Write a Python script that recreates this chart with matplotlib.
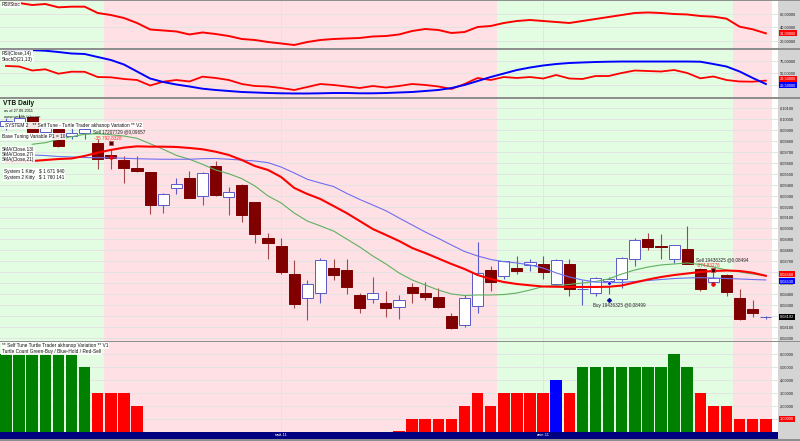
import matplotlib.pyplot as plt
from matplotlib.patches import Rectangle
from matplotlib.transforms import offset_copy

plt.rcParams['font.family'] = ['Liberation Sans', 'DejaVu Sans']

W, H = 800, 441

# ---- VTB daily candles ----
opens = [0.0994, 0.0996, 0.10021, 0.09881, 0.09906, 0.09844, 0.09875, 0.09777, 0.09671, 0.09625,
         0.09549, 0.09516, 0.09212, 0.09367, 0.09464, 0.09297, 0.09571, 0.09288, 0.09400, 0.09242,
         0.08910, 0.08840, 0.08581, 0.08362, 0.08414, 0.08639, 0.08621, 0.08390, 0.08353, 0.08317,
         0.08283, 0.08469, 0.08408, 0.08375, 0.08198, 0.08116, 0.08292, 0.08624, 0.08563, 0.08639,
         0.08669, 0.08673, 0.08490, 0.08673, 0.08445, 0.08408, 0.08524, 0.08542, 0.08719, 0.08901,
         0.08836, 0.08719, 0.08810, 0.08633, 0.08512, 0.08572, 0.08365, 0.08268, 0.08190]
highs = [0.1001, 0.10042, 0.10030, 0.09930, 0.09912, 0.09921, 0.09921, 0.09814, 0.09723, 0.09662,
         0.09662, 0.09520, 0.09320, 0.09464, 0.09525, 0.09512, 0.09616, 0.09382, 0.09402, 0.09245,
         0.08962, 0.08916, 0.08709, 0.08530, 0.08727, 0.08718, 0.08718, 0.08414, 0.08557, 0.08429,
         0.08390, 0.08505, 0.08511, 0.08460, 0.08231, 0.08393, 0.08880, 0.08658, 0.08705, 0.08749,
         0.08718, 0.08749, 0.08720, 0.08718, 0.08530, 0.08560, 0.08554, 0.08740, 0.08916, 0.08962,
         0.08947, 0.08850, 0.09023, 0.08640, 0.08642, 0.08580, 0.08451, 0.08347, 0.08201]
lows = [0.0990, 0.0994, 0.09875, 0.09870, 0.09745, 0.09814, 0.09820, 0.09546, 0.09540, 0.09412,
        0.09520, 0.09129, 0.09145, 0.09318, 0.09276, 0.09212, 0.09300, 0.09120, 0.09059, 0.08871,
        0.08724, 0.08581, 0.08271, 0.08162, 0.08317, 0.08530, 0.08399, 0.08226, 0.08317, 0.08192,
        0.08171, 0.08317, 0.08344, 0.08277, 0.08079, 0.08101, 0.08226, 0.08429, 0.08536, 0.08582,
        0.08612, 0.08536, 0.08481, 0.08384, 0.08300, 0.08384, 0.08406, 0.08460, 0.08658, 0.08804,
        0.08719, 0.08688, 0.08673, 0.08430, 0.08490, 0.08384, 0.08164, 0.08195, 0.08177]
closes = [0.0998, 0.1001, 0.09881, 0.09921, 0.09753, 0.09869, 0.09906, 0.09631, 0.09640, 0.09555,
          0.09528, 0.09218, 0.09312, 0.09403, 0.09282, 0.09510, 0.09303, 0.09336, 0.09120, 0.08953,
          0.08871, 0.08603, 0.08308, 0.08490, 0.08712, 0.08578, 0.08469, 0.08277, 0.08408, 0.08271,
          0.08344, 0.08408, 0.08375, 0.08283, 0.08094, 0.08362, 0.08591, 0.08515, 0.08700, 0.08609,
          0.08694, 0.08603, 0.08712, 0.08451, 0.08450, 0.08551, 0.08536, 0.08731, 0.08892, 0.08834,
          0.08831, 0.08847, 0.08673, 0.08445, 0.08551, 0.08423, 0.08170, 0.08231, 0.08192]

# moving averages
sma13 = [None, None, 0.09769, 0.09783, 0.09814, 0.09838, 0.09860, 0.09865, 0.09856, 0.09844,
         0.09823, 0.09774, 0.09723, 0.09668, 0.09632, 0.09586, 0.09534, 0.09500, 0.09455, 0.09388,
         0.09297, 0.09233, 0.09141, 0.09068, 0.09023, 0.08977, 0.08904, 0.08831, 0.08749, 0.08676,
         0.08594, 0.08530, 0.08484, 0.08438, 0.08402, 0.08388, 0.08393, 0.08393, 0.08397, 0.08411,
         0.08438, 0.08470, 0.08479, 0.08489, 0.08502, 0.08516, 0.08539, 0.08584, 0.08621, 0.08648,
         0.08667, 0.08676, 0.08685, 0.08671, 0.08648, 0.08621, 0.08603, 0.08584, 0.08569]
sma21 = [0.09610, 0.09612, 0.09616, 0.09625, 0.09634, 0.09639, 0.09662, 0.09692, 0.09717, 0.09738,
         0.09750, 0.09747, 0.09747, 0.09744, 0.09735, 0.09723, 0.09701, 0.09671, 0.09625, 0.09570,
         0.09534, 0.09470, 0.09370, 0.09315, 0.09269, 0.09205, 0.09141, 0.09068, 0.08995, 0.08941,
         0.08886, 0.08822, 0.08776, 0.08726, 0.08676, 0.08630, 0.08575, 0.08539, 0.08511, 0.08493,
         0.08481, 0.08470, 0.08468, 0.08466, 0.08466, 0.08466, 0.08468, 0.08479, 0.08507, 0.08534,
         0.08557, 0.08575, 0.08589, 0.08603, 0.08612, 0.08616, 0.08612, 0.08596, 0.08568]
sma27 = [None, None, 0.09671, 0.09666, 0.09657, 0.09653, 0.09648, 0.09646, 0.09646, 0.09641,
         0.09637, 0.09634, 0.09632, 0.09632, 0.09632, 0.09637, 0.09639, 0.09632, 0.09625, 0.09616,
         0.09601, 0.09561, 0.09507, 0.09449, 0.09415, 0.09383, 0.09321, 0.09265, 0.09214, 0.09162,
         0.09096, 0.09032, 0.08968, 0.08910, 0.08849, 0.08790, 0.08749, 0.08717, 0.08697, 0.08685,
         0.08667, 0.08639, 0.08594, 0.08557, 0.08530, 0.08511, 0.08507, 0.08507, 0.08516, 0.08525,
         0.08534, 0.08543, 0.08548, 0.08551, 0.08548, 0.08543, 0.08539, 0.08534, 0.08530]

# indicator panes
rsi_stoc = [76.5, 76.5, 73.5, 75, 70, 71, 71, 61.5, 58.5, 54,
            46.5, 36.8, 35.3, 33.8, 29.3, 32.3, 30, 27, 22.5, 21,
            18, 15.8, 13.5, 18, 21, 22.5, 23.3, 24, 26.3, 27,
            29.3, 34.5, 37.5, 36, 31.5, 33, 40.5, 42, 46.5, 49.5,
            51, 49.5, 48, 46.5, 49.5, 52.5, 55.5, 58.5, 61.5, 62.3,
            61.5, 60, 59.3, 57, 56, 53, 41, 37, 31]
rsi14 = [64.0, 62.9, 54.6, 57.1, 47.9, 52.1, 51.9, 41.0, 40.4, 36.9,
         34.8, 23.3, 31.3, 34.8, 31.7, 41.7, 39.0, 34.8, 26.5, 22.3,
         21.3, 18.1, 14.0, 20.2, 26.5, 24.4, 21.3, 18.1, 22.3, 19.2,
         22.3, 26.5, 24.4, 21.3, 16.1, 26.5, 39.0, 34.8, 41.0, 39.0,
         41.0, 37.9, 45.2, 37.9, 36.9, 43.1, 43.1, 49.4, 54.6, 53.5,
         52.5, 55.6, 49.4, 38.3, 42.1, 34.8, 31.7, 31.3, 33.5]
stochd = [97, 97, 97, 95.8, 93.1, 90.0, 89.0, 82.7, 76.5, 67.1,
          52.5, 37.9, 30.6, 25.4, 21.3, 16.7, 14.0, 11.9, 9.8, 8.8,
          7.7, 7.1, 6.7, 6.7, 7.1, 7.7, 7.7, 7.1, 7.1, 7.7,
          8.8, 9.8, 11.9, 14.0, 18.1, 24.4, 32.7, 41.0, 48.3, 55.6,
          60.8, 65.0, 68.1, 70.2, 71.3, 72.3, 72.9, 73.3, 73.3, 73.3,
          73.3, 73.3, 73.3, 72.9, 68.1, 62.9, 52.5, 39.0, 26.5]

# turtle count pane
turtle_count = [6, 6, 6, 6, 6, 6, 5, 3, 3, 3,
                2, 0, 0, 0, 0, 0, 0, 0, 0, 0,
                0, 0, 0, 0, 0, 0, 0, 0, 0, 0,
                0.1, 1, 1, 1, 1, 2, 3, 2, 3, 3,
                3, 3, 4, 3, 5, 5, 5, 5, 5, 5,
                5, 6, 5, 3, 2, 2, 1, 1, 1]
turtle_state = ['buy'] * 7 + ['sell'] * 35 + ['hold', 'sell'] + ['buy'] * 9 + ['sell'] * 6

# system position zones (background), trades
zones = [(0, 7, 'buy'), (8, 37, 'sell'), (38, 55, 'buy'), (56, 58, 'sell')]
trade_idx = [8, 46, 54]
trade_side = ['Sell', 'Buy', 'Sell']
trade_shares = [17207729, 19436325, 19436325]
trade_price = [0.09657, 0.08499, 0.08494]
trade_pnl = ['-35 792,8328', None, '-374,83276']

month_starts = [21, 41]
month_labels = ['май-11', 'июн-11']

main_ticks = [0.080 + 0.001 * k for k in range(22)]
p1_ticks = [20, 40, 60]
p2_ticks = [25, 50, 75]
count_ticks = [1, 2, 3, 4, 5, 6]

# ---- drawing ----
zone_col = {'buy': '#e3fde3', 'sell': '#ffe1e5'}
state_col = {'buy': '#008000', 'hold': '#0000ff', 'sell': '#ff0000'}
XLIM = (-0.46, 58.93)
idx = list(range(len(closes)))


def px_box(x0, y0, x1, y1):
    return [x0 / W, 1 - y1 / H, (x1 - x0) / W, (y1 - y0) / H]


def ru(v):
    return f'{v:.5f}'.replace('.', ',')


def style(ax, ylim, ticks):
    ax.set_xlim(XLIM)
    ax.set_ylim(ylim)
    for a, b, s in zones:
        ax.axvspan(a - 0.5, b + 0.5, color=zone_col[s], lw=0, zorder=0)
    for t in ticks:
        ax.axhline(t, color='#e4e4e4', lw=0.7, zorder=0.5)
    for m in month_starts:
        ax.axvline(m, color='#e4e4e4', lw=0.7, zorder=0.5)
    ax.yaxis.tick_right()
    ax.set_yticks(ticks)
    ax.set_yticklabels([ru(t) for t in ticks])
    ax.tick_params(axis='y', length=0, pad=1.2, labelsize=2.9, labelcolor='#222222')
    ax.set_xticks([])
    for sp in ax.spines.values():
        sp.set_visible(False)


def value_box(ax, v, fc, dy=0):
    tr = offset_copy(ax.get_yaxis_transform(), fig=fig, x=1.3, y=dy, units='points')
    ax.text(1.0, v, ru(v), transform=tr, ha='left', va='center', fontsize=2.9, color='white',
            bbox=dict(boxstyle='square,pad=0.25', fc=fc, ec='none'), zorder=10)


def label(x, y, s, size=3.4, box=True, **kw):
    bb = dict(boxstyle='square,pad=0.15', fc='white', ec='none', alpha=0.9) if box else None
    fig.text(x / W, 1 - y / H, s, fontsize=size, ha='left', va='center', color='#111111',
             bbox=bb, zorder=20, **kw)


fig = plt.figure(figsize=(W / 100, H / 100), dpi=100)
fig.patch.set_facecolor('white')
fig.add_artist(Rectangle((778 / W, 0), 22 / W, 1, transform=fig.transFigure,
                         fc='#d4d4d4', ec='none', zorder=-10))
for y0, y1 in [(0, 1), (48, 50), (96.5, 98.5), (340.5, 342), (439, 441)]:
    fig.add_artist(Rectangle((0, 1 - y1 / H), 1, (y1 - y0) / H, transform=fig.transFigure,
                             fc='#8f8f8f', ec='none', zorder=-5))

# RSI/Stoc pane
ax1 = fig.add_axes(px_box(0, 1, 778, 48))
style(ax1, (9, 79.5), p1_ticks)
ax1.plot(idx, rsi_stoc, color='#ff0000', lw=1.4, zorder=3)
value_box(ax1, rsi_stoc[-1], '#ff0000')

# RSI / StochD pane
ax2 = fig.add_axes(px_box(0, 50, 778, 96.5))
style(ax2, (0.43, 97.3), p2_ticks)
ax2.plot(idx, rsi14, color='#ff0000', lw=1.3, zorder=3)
ax2.plot(idx, stochd, color='#0000ff', lw=1.4, zorder=3)
value_box(ax2, rsi14[-1], '#ff0000', dy=1.5)
value_box(ax2, stochd[-1], '#0000ff', dy=-1.0)

# price pane
ax = fig.add_axes(px_box(0, 98.5, 778, 340.5))
style(ax, (0.079772, 0.101867), main_ticks)
up = [c >= o for o, c in zip(opens, closes)]
wick_col = ['#5a5ac8' if u else '#a04848' for u in up]
ax.vlines(idx, lows, highs, colors=wick_col, lw=0.8, zorder=2)
ax.bar(idx, [abs(c - o) for o, c in zip(opens, closes)],
       bottom=[min(o, c) for o, c in zip(opens, closes)], width=0.85,
       color=['white' if u else '#800000' for u in up],
       edgecolor=['#5a5ac8' if u else '#800000' for u in up], lw=0.7, zorder=3)
ax.plot(idx, sma13, color='#5fb05f', lw=0.8, zorder=4)
ax.plot(idx, sma27, color='#6e6ef0', lw=0.8, zorder=4)
ax.plot(idx, sma21, color='#ff0000', lw=1.5, zorder=4)

for i, side, sh, pr, pnl in zip(trade_idx, trade_side, trade_shares, trade_price, trade_pnl):
    txt = f'{side} {sh} @{ru(pr)}'
    if side == 'Sell':
        ax.plot(i, pr, 'o', ms=2.6, mfc='#ff0000', mec='#cc0000', mew=0.5, zorder=6)
        ax.plot(i, pr, 's', ms=2.4, mfc='#500000', mec='#d04040', mew=0.5, zorder=6,
                transform=offset_copy(ax.transData, fig=fig, y=10, units='points'))
        ax.text(i, pr, txt, fontsize=3.3, color='#222222', ha='left', va='center', zorder=7,
                transform=offset_copy(ax.transData, fig=fig, x=-12.7, y=17.7, units='points'))
        ax.text(i, pr, pnl, fontsize=3.3, color='#ff3030', ha='left', va='center', zorder=7,
                transform=offset_copy(ax.transData, fig=fig, x=-12.0, y=13.8, units='points'))
    else:
        ax.plot(i, pr, 'o', ms=2.6, mfc='#0000ff', mec='white', mew=0.4, zorder=6)
        ax.plot(i, pr, 'D', ms=2.4, mfc='#0000cc', mec='#000060', mew=0.4, zorder=6,
                transform=offset_copy(ax.transData, fig=fig, y=-12, units='points'))
        ax.text(i, pr, txt, fontsize=3.3, color='#222222', ha='left', va='center', zorder=7,
                transform=offset_copy(ax.transData, fig=fig, x=-11.5, y=-16.3, units='points'))

value_box(ax, sma21[-1], '#ff0000', dy=1.2)
value_box(ax, sma27[-1], '#0000ff', dy=-0.8)
value_box(ax, closes[-1], '#000000')

# turtle count pane
axb = fig.add_axes(px_box(0, 342, 778, 432))
style(axb, (0, 6.92), count_ticks)
axb.bar(idx, turtle_count, width=0.88, color=[state_col[s] for s in turtle_state], lw=0, zorder=2)
value_box(axb, turtle_count[-1], '#ff0000')

# date strip
axd = fig.add_axes(px_box(0, 432, 778, 439))
axd.set_facecolor('#000080')
axd.set_xlim(XLIM)
axd.set_xticks([])
axd.set_yticks([])
for sp in axd.spines.values():
    sp.set_visible(False)
for m, s in zip(month_starts, month_labels):
    axd.text(m, 0.5, s, transform=axd.get_xaxis_transform(), fontsize=2.9, color='white',
             ha='center', va='center')

# pane captions
label(2, 5, 'RSI/Stoc')
label(2, 53, 'RSI(Close,14)')
label(2, 59, 'StochD(21,13)')
label(3, 103.5, 'VTB Daily', size=4.8, box=False, fontweight='bold')
label(4, 111, 'as of 27.06.2011', size=2.8, box=False)
label(4, 116.5, 'www.wealth-lab.com', size=2.9, box=False)
label(5, 125.5, 'SYSTEM 2   ** Self Tune - Turtle Trader akhanop Variation ** V2')
label(2, 136.3, 'Base Tuning Variable P1 = 10')
label(2, 149.3, 'SMA(Close,13)')
label(2, 154.3, 'SMA(Close,27)')
label(2, 159.3, 'SMA(Close,21)')
label(4, 171.7, 'System 1 Kitty   $ 1 671 940')
label(4, 177.3, 'System 2 Kitty   $ 1 760 141')
label(2, 345.7, '** Self Tune Turtle Trader akhanop Variation ** V1')
label(2, 351.7, 'Turtle Count Green-Buy / Blue-Hold / Red-Sell')

fig.savefig('out.png', dpi=100)
